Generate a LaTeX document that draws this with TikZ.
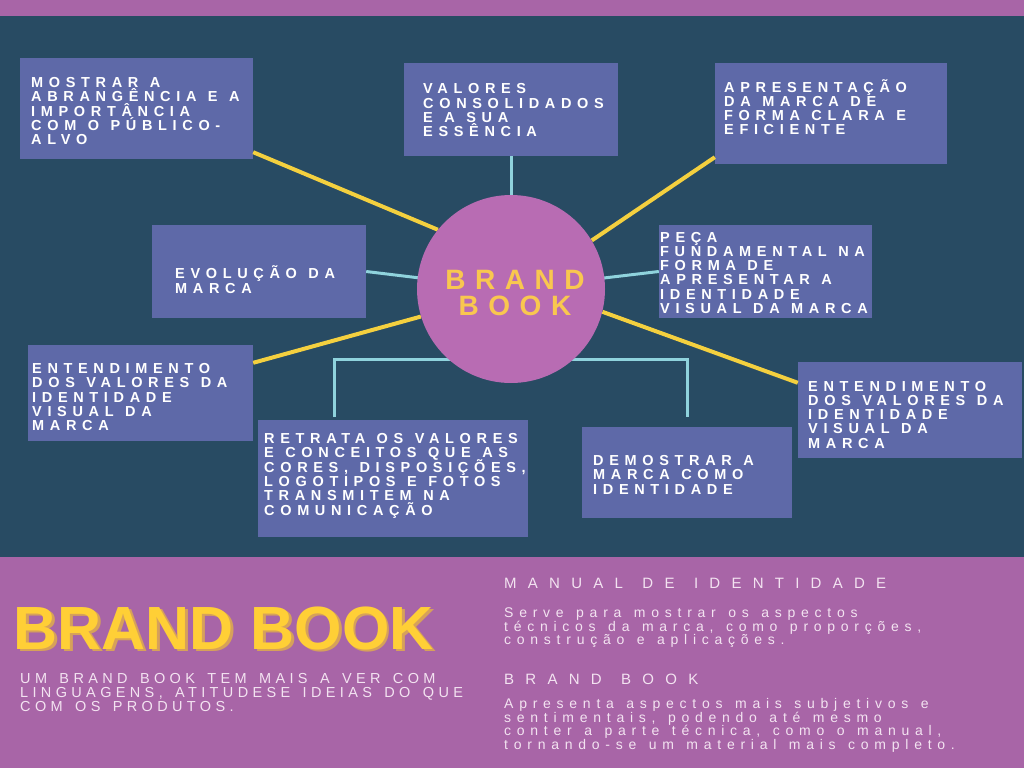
\documentclass[tikz,border=0pt]{standalone}
\usepackage{fontspec}
\usetikzlibrary{calc}
\setmainfont{Liberation Sans}
\newfontfamily\bxf[LetterSpace=39]{Liberation Sans}
\newfontfamily\ctf[LetterSpace=34]{Liberation Sans}
\newfontfamily\subf[LetterSpace=30]{Liberation Sans}
\newfontfamily\hdf[LetterSpace=75]{Liberation Sans}
\newfontfamily\bodyf[LetterSpace=41]{Liberation Sans}
\def\gpw{8pt}
\newcommand\gp{\hskip\gpw\relax}
\lineskiplimit=-100pt
\normallineskiplimit=-100pt
\definecolor{purp}{HTML}{A865A7}
\definecolor{navy}{HTML}{284B63}
\definecolor{boxc}{HTML}{5E69A8}
\definecolor{circ}{HTML}{B86CB3}
\definecolor{yl}{HTML}{F4D03F}
\definecolor{cyl}{HTML}{8FD3DD}
\definecolor{ctext}{HTML}{F9C74F}
\definecolor{ttl}{HTML}{FFCF36}
\definecolor{shd}{HTML}{D6A15A}
\definecolor{light}{HTML}{F3E3F1}
\tikzset{
  bx/.style={rectangle, fill=boxc, draw=none, inner sep=0pt},
  txt/.style={anchor=base west, inner sep=0pt, text=white, align=left, text width=280pt,
    font={\bxf\bfseries\fontsize{14.5}{14.3}\selectfont\def\gpw{11.5pt}}},
  yline/.style={draw=yl, line width=4pt},
  cline/.style={draw=cyl, line width=3pt},
  lighttxt/.style={anchor=base west, inner sep=0pt, text=light, align=left, text width=500pt}
}
\begin{document}
\begin{tikzpicture}[x=1pt,y=-1pt]
\useasboundingbox (0,0) rectangle (1024,768);
\fill[purp] (0,0) rectangle (1024,768);
\fill[navy] (0,16) rectangle (1024,557);

% boxes
\node[bx, minimum width=233pt, minimum height=101pt] (b1) at (136.5,108.5) {};
\node[bx, minimum width=214pt, minimum height=93pt] (b2) at (511,109.5) {};
\node[bx, minimum width=232pt, minimum height=101pt] (b3) at (831,113.5) {};
\node[bx, minimum width=214pt, minimum height=93pt] (b4) at (259,271.5) {};
\node[bx, minimum width=213pt, minimum height=93pt] (b6) at (765.5,271.5) {};
\node[bx, minimum width=224pt, minimum height=96pt] (b7) at (910,410) {};
\node[bx, minimum width=225pt, minimum height=96pt] (b5) at (140.5,393) {};
\node[bx, minimum width=270pt, minimum height=117pt] (b8) at (393,478.5) {};
\node[bx, minimum width=210pt, minimum height=91pt] (b9) at (687,472.5) {};

% circle placeholder for connectors
\path (511,289) node[circle, minimum size=188pt, inner sep=0pt] (c) {};

% connectors
\draw[yline] ($(b1.south east)+(0,-7)$) -- (c.141);
\draw[yline] ($(b3.south west)+(0,-7)$) -- (c.31);
\draw[yline] ($(b5.north east)+(0,18)$) -- (c.197);
\draw[yline] ($(b7.north west)+(0,21)$) -- (c.-14);
\draw[cline] (b2.south) -- (c.center);
\draw[cline] (b4.east) -- (c.center);
\draw[cline] (b6.west) -- (c.center);
\coordinate (k1) at (334,417);
\coordinate (k2) at (687,417);
\draw[cline] (k1) -- ++(0,-58) -| (k2);

% circle on top
\fill[circ] (c.center) circle[radius=94pt];
\node[anchor=base, inner sep=0pt, text width=200pt, align=center, text=ctext,
  font=\ctf\bfseries\fontsize{28}{26}\selectfont] (ct) at (515,289) {BRAND\\BOOK};

% box texts
\node[txt] (t1) at (31,87.5) {MOSTRAR\gp A\\ABRANGÊNCIA\gp E\gp A\\IMPORTÂNCIA\\COM\gp O\gp PÚBLICO-\\ALVO};
\node[txt] (t2) at (423,93.7) {VALORES\\CONSOLIDADOS\\E\gp A\gp SUA\\ESSÊNCIA};
\node[txt] (t3) at (724,92) {APRESENTAÇÃO\\DA\gp MARCA\gp DE\\FORMA\gp CLARA\gp E\\EFICIENTE};
\node[txt] (t4) at (175,278.7) {EVOLUÇÃO\gp DA\\MARCA};
\node[txt] (t6) at (660,242) {PEÇA\\FUNDAMENTAL\gp NA\\FORMA\gp DE\\APRESENTAR\gp A\\IDENTIDADE\\VISUAL\gp DA\gp MARCA};
\node[txt] (t7) at (808,391) {ENTENDIMENTO\\DOS\gp VALORES\gp DA\\IDENTIDADE\\VISUAL\gp DA\\MARCA};
\node[txt] (t5) at (32,373.5) {ENTENDIMENTO\\DOS\gp VALORES\gp DA\\IDENTIDADE\\VISUAL\gp DA\\MARCA};
\node[txt] (t8) at (264,443.5) {RETRATA\gp OS\gp VALORES\\E\gp CONCEITOS\gp QUE\gp AS\\CORES,\gp DISPOSIÇÕES,\\LOGOTIPOS\gp E\gp FOTOS\\TRANSMITEM\gp NA\\COMUNICAÇÃO};
\node[txt] (t9) at (593,465.5) {DEMOSTRAR\gp A\\MARCA\gp COMO\\IDENTIDADE};

% bottom panel: title with its shadow in one node
\node[anchor=base west, inner sep=0pt, font=\bfseries\fontsize{61}{61}\selectfont] (tt) at (13.5,649)
  {\makebox[0pt][l]{\hspace{2.5pt}\raisebox{-2pt}{\textcolor{shd}{BRAND BOOK}}}\textcolor{ttl}{BRAND BOOK}};
\node[lighttxt, font={\subf\fontsize{14.5}{14}\selectfont\def\gpw{12.4pt}}] (sub) at (20,683.5) {UM\gp BRAND\gp BOOK\gp TEM\gp MAIS\gp A\gp VER\gp COM\\LINGUAGENS,\gp ATITUDESE\gp IDEIAS\gp DO\gp QUE\\COM\gp OS\gp PRODUTOS.};

\node[lighttxt, font={\hdf\fontsize{15}{15}\selectfont\def\gpw{19.5pt}}] (h1) at (504,588) {MANUAL\gp DE\gp IDENTIDADE};
\node[lighttxt, font={\bodyf\fontsize{14}{13.5}\selectfont\def\gpw{12.5pt}}] (p1) at (504,617.5) {Serve\gp para\gp mostrar\gp os\gp aspectos\\técnicos\gp da\gp marca,\gp como\gp proporções,\\construção\gp e\gp aplicações.};
\node[lighttxt, font={\hdf\fontsize{15}{15}\selectfont\def\gpw{19.5pt}}] (h2) at (504,684) {BRAND\gp BOOK};
\node[lighttxt, font={\bodyf\fontsize{14}{13.5}\selectfont\def\gpw{12.5pt}}] (p2) at (504,708.5) {Apresenta\gp aspectos\gp mais\gp subjetivos\gp e\\sentimentais,\gp podendo\gp até\gp mesmo\\conter\gp a\gp parte\gp técnica,\gp como\gp o\gp manual,\\tornando-se\gp um\gp material\gp mais\gp completo.};
\end{tikzpicture}
\end{document}
